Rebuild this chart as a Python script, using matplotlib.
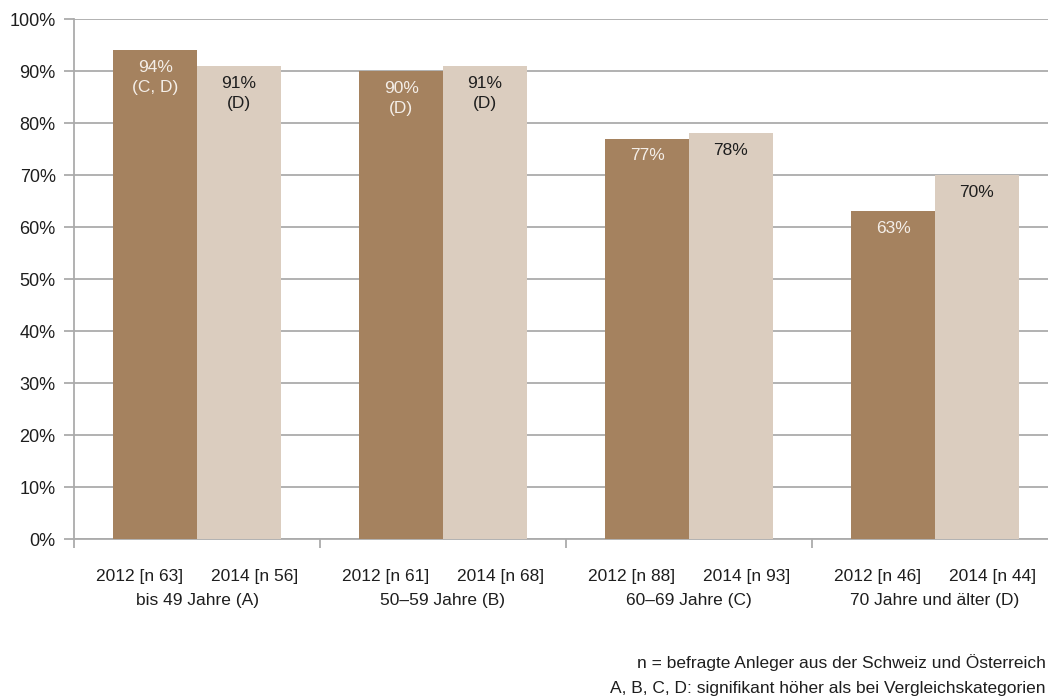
import numpy as np
import matplotlib.pyplot as plt
from matplotlib.transforms import blended_transform_factory

plt.rcParams['font.family'] = ['Liberation Sans', 'DejaVu Sans']
plt.rcParams['font.size'] = 12.5

# survey data per age group, 2012 vs 2014
groups = ['bis 49 Jahre (A)', '50–59 Jahre (B)', '60–69 Jahre (C)', '70 Jahre und älter (D)']
vals_2012 = [94, 90, 77, 63]
vals_2014 = [91, 91, 78, 70]
n_2012 = [63, 61, 88, 46]
n_2014 = [56, 68, 93, 44]
sig_2012 = ['(C, D)', '(D)', '', '']
sig_2014 = ['(D)', '(D)', '', '']
yticks = np.arange(0, 101, 10)

dark = '#A5825F'
light = '#DBCDBF'
grid_col = '#ABABAB'
txt_col = '#1E1E1E'

fig = plt.figure(figsize=(10.48, 7.0), dpi=100)
ax = fig.add_axes([74/1048, 1-539/700, 984/1048, 520/700])

x = np.arange(len(groups)) + 0.5
w = 0.34
ax.bar(x - w/2, vals_2012, w, color=dark, zorder=3)
ax.bar(x + w/2, vals_2014, w, color=light, zorder=3)

for i in range(len(groups)):
    t1 = f'{vals_2012[i]}%' + ('\n' + sig_2012[i] if sig_2012[i] else '')
    t2 = f'{vals_2014[i]}%' + ('\n' + sig_2014[i] if sig_2014[i] else '')
    ax.text(x[i] - w/2, vals_2012[i] - 1.9, t1, ha='center', va='top',
            color='#F4EEE8', linespacing=1.45, zorder=4)
    ax.text(x[i] + w/2, vals_2014[i] - 1.9, t2, ha='center', va='top',
            color=txt_col, linespacing=1.45, zorder=4)

ax.set_xlim(0, len(groups))
ax.set_ylim(0, 100)
ax.set_yticks(yticks)
ax.set_yticklabels([f'{v}%' for v in yticks], fontsize=13)
ax.yaxis.grid(True, color=grid_col, linewidth=1.3, zorder=0)
ax.tick_params(axis='y', length=7.2, width=1.3, color=grid_col, pad=6, labelcolor=txt_col)

# separators between the age groups
ax.set_xticks(np.arange(len(groups)))
ax.set_xticklabels([])
ax.tick_params(axis='x', length=6.5, width=1.3, color=grid_col)

for s in ['top', 'right']:
    ax.spines[s].set_visible(False)
for s in ['left', 'bottom']:
    ax.spines[s].set_color(grid_col)
    ax.spines[s].set_linewidth(1.3)

# year / sample size labels and group names under the axis
trans = blended_transform_factory(ax.transData, fig.transFigure)
off = 0.233
for i, g in enumerate(groups):
    ax.text(x[i] - off, 1 - 576/700, f'2012 [n {n_2012[i]}]', transform=trans,
            ha='center', va='center', color=txt_col)
    ax.text(x[i] + off, 1 - 576/700, f'2014 [n {n_2014[i]}]', transform=trans,
            ha='center', va='center', color=txt_col)
    ax.text(x[i], 1 - 601/700, g, transform=trans,
            ha='center', va='center', color=txt_col)

fig.text(1046/1048, 1 - 663/700, 'n = befragte Anleger aus der Schweiz und Österreich',
         ha='right', va='center', color=txt_col)
fig.text(1046/1048, 1 - 689/700, 'A, B, C, D: signifikant höher als bei Vergleichskategorien',
         ha='right', va='center', color=txt_col)

fig.savefig('out.png', dpi=100)
